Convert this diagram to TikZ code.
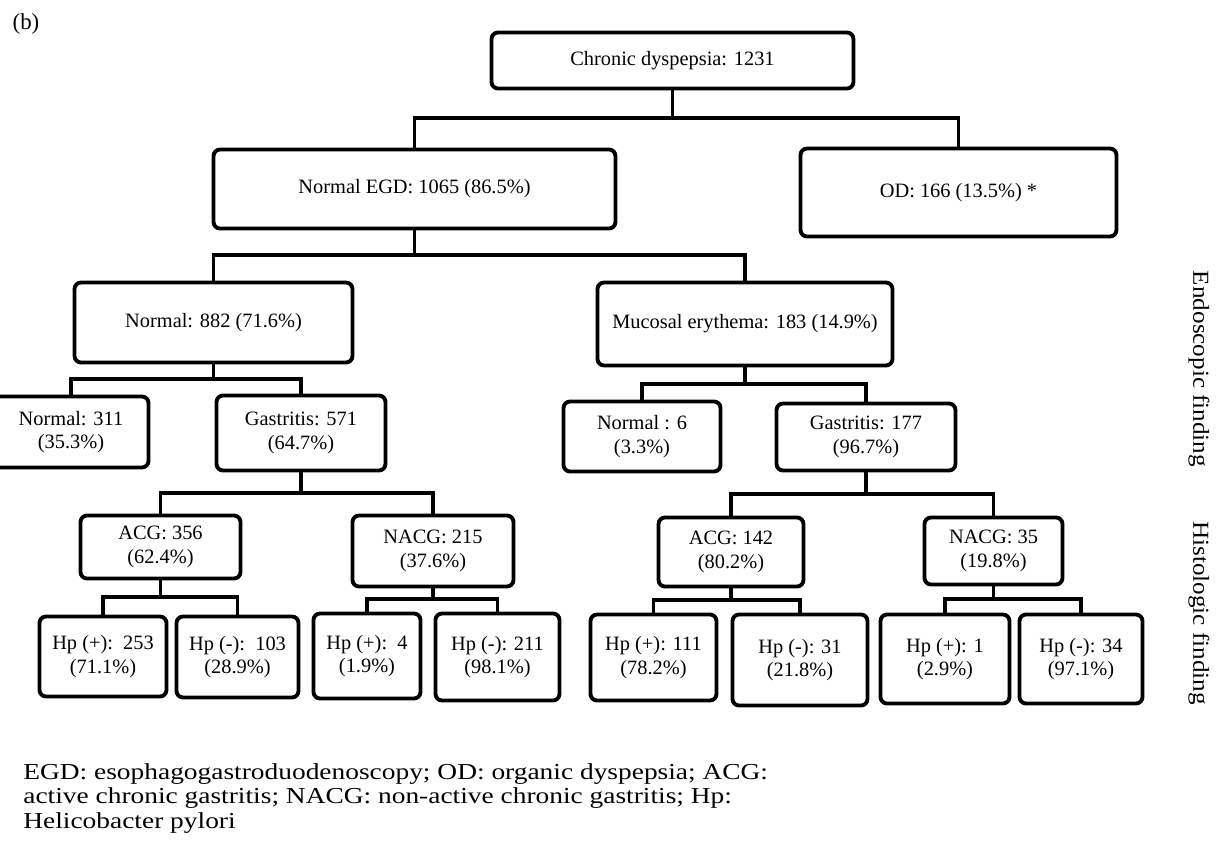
\documentclass[tikz,border=0pt]{standalone}
\usepackage{fontspec}
\setmainfont{Liberation Serif}
\newfontfamily\notefont[FakeStretch=1.2]{Liberation Serif}
\newfontfamily\sidefont[FakeStretch=1.1]{Liberation Serif}
\begin{document}
\begin{tikzpicture}[x=0.02cm,y=-0.02cm,
	box/.style={draw,line width=2.2pt,rounded corners=0.13cm,align=center,inner sep=0pt,font=\fontsize{11.6}{13.5}\selectfont},
	link/.style={line width=2pt},
	side/.style={rotate=-90,font=\sidefont\fontsize{13}{15}\selectfont}]
	\useasboundingbox (0,0) rectangle (1218,846);
	\clip (0,0) rectangle (1218,846);
	\node[font=\fontsize{13}{15}\selectfont] (lbl) at (26,24) {(b)};
	\node[box,minimum width=7.24cm,minimum height=1.12cm] (cd) at (672.5,60.5) {Chronic dyspepsia: 1231};
	\node[box,minimum width=8.04cm,minimum height=1.58cm] (egd) at (414.5,189) {Normal EGD: 1065 (86.5\%)};
	\node[box,minimum width=6.32cm,minimum height=1.76cm] (od) at (958.5,192.5) {OD: 166 (13.5\%) *};
	\node[box,minimum width=5.56cm,minimum height=1.6cm] (nrm) at (213.5,322.5) {Normal: 882 (71.6\%)};
	\node[box,minimum width=5.9cm,minimum height=1.66cm] (mue) at (745,324) {Mucosal erythema: 183 (14.9\%)};
	\node[box,minimum width=3.1cm,minimum height=1.42cm] (nn) at (71,432) {Normal: 311\\(35.3\%)};
	\node[box,minimum width=3.38cm,minimum height=1.5cm] (ng) at (301,433) {Gastritis: 571\\(64.7\%)};
	\node[box,minimum width=3.14cm,minimum height=1.4cm] (mn) at (642,436.5) {Normal : 6\\(3.3\%)};
	\node[box,minimum width=3.58cm,minimum height=1.34cm] (mg) at (866,437) {Gastritis: 177\\(96.7\%)};
	\node[box,minimum width=3.2cm,minimum height=1.26cm] (nga) at (160.5,547) {ACG: 356\\(62.4\%)};
	\node[box,minimum width=3.22cm,minimum height=1.42cm] (ngn) at (433,551) {NACG: 215\\(37.6\%)};
	\node[box,minimum width=2.9cm,minimum height=1.38cm] (mga) at (731,552) {ACG: 142\\(80.2\%)};
	\node[box,minimum width=2.76cm,minimum height=1.34cm] (mgn) at (993.5,551) {NACG: 35\\(19.8\%)};
	\node[box,minimum width=2.54cm,minimum height=1.6cm] (hpa) at (103,656.5) {Hp (+):\ \ 253\\(71.1\%)};
	\node[box,minimum width=2.44cm,minimum height=1.62cm] (hpb) at (237.5,657) {Hp (-):\ \ 103\\(28.9\%)};
	\node[box,minimum width=2.14cm,minimum height=1.7cm] (hpc) at (367,656) {Hp (+):\ \ 4\\(1.9\%)};
	\node[box,minimum width=2.48cm,minimum height=1.74cm] (hpd) at (497.5,657) {Hp (-): 211\\(98.1\%)};
	\node[box,minimum width=2.52cm,minimum height=1.72cm] (hpe) at (653.5,657.5) {Hp (+): 111\\(78.2\%)};
	\node[box,minimum width=2.7cm,minimum height=1.82cm] (hpf) at (800,660) {Hp (-): 31\\(21.8\%)};
	\node[box,minimum width=2.58cm,minimum height=1.78cm] (hpg) at (945,659) {Hp (+): 1\\(2.9\%)};
	\node[box,minimum width=2.46cm,minimum height=1.78cm] (hph) at (1081,659) {Hp (-): 34\\(97.1\%)};
	\foreach \p/\l/\r/\y in {cd/egd/od/118, egd/nrm/mue/255, nrm/nn/ng/379, mue/mn/mg/384,
		ng/nga/ngn/493, mg/mga/mgn/494, nga/hpa/hpb/597, ngn/hpc/hpd/599, mga/hpe/hpf/600, mgn/hpg/hph/599}
		\draw[link] (\p.south) -- (\p.south |- 0,\y) (\l.north) -- (\l.north |- 0,\y) -- (\r.north |- 0,\y) -- (\r.north);
	\node[side] (endo) at (1199,369) {Endoscopic finding};
	\node[side] (histo) at (1199,613) {Histologic finding};
	\node[anchor=north west,inner sep=0pt,align=left,font=\notefont\fontsize{13}{13.9}\selectfont] (note) at (23,763) {EGD: esophagogastroduodenoscopy; OD: organic dyspepsia; ACG:\\active chronic gastritis; NACG: non-active chronic gastritis; Hp:\\Helicobacter pylori};
\end{tikzpicture}
\end{document}
